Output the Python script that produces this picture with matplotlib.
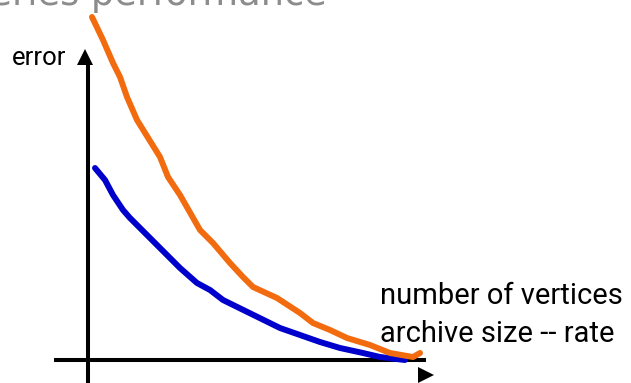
import matplotlib
matplotlib.use("Agg")
import matplotlib.pyplot as plt

# curves (x = size/rate, y = error), arbitrary units
orange_x = [4, 15, 25, 32, 39, 49, 72, 80, 92, 112, 125, 142, 155, 165, 189,
            212, 225, 242, 259, 282, 302, 325, 332]
orange_y = [343, 320, 297, 283, 263, 240, 203, 183, 165, 130, 117, 97, 83, 73, 62,
            47, 37, 30, 22, 15, 7, 3, 7]

blue_x = [7, 17, 25, 35, 42, 59, 64, 92, 109, 122, 135, 192, 212, 232, 252,
          275, 292, 317]
blue_y = [192, 180, 165, 150, 142, 125, 120, 92, 77, 70, 60, 32, 25, 18, 12,
          7, 3, 0]

title = "Queries performance"
y_label = "error"
x_labels = ["number of vertices", "archive size -- rate"]

fig = plt.figure(figsize=(6.31, 3.83), dpi=100)
ax = fig.add_axes([0, 0, 1, 1])
ax.set_xlim(-88, 543)
ax.set_ylim(-23, 360)
ax.axis("off")

# hand-drawn style axes
ax.plot([0, 0], [-23, 300], color="black", lw=2.9, solid_capstyle="butt")
ax.plot([-34, 338], [0, 0], color="black", lw=2.9, solid_capstyle="butt")
ax.plot([-3], [303], marker="^", color="black", ms=12, mew=0)
ax.plot([338], [-15], marker=">", color="black", ms=12, mew=0)

ax.plot(blue_x, blue_y, color="#0000CC", lw=4.3,
        solid_capstyle="round", solid_joinstyle="round")
ax.plot(orange_x, orange_y, color="#F26B0F", lw=4.3,
        solid_capstyle="round", solid_joinstyle="round")

ax.text(327 - 88, 355, title, ha="right", va="baseline",
        fontsize=26.5, color="#8c8c8c", family="DejaVu Sans")
ax.text(12 - 88, 295, y_label, ha="left", va="baseline",
        fontsize=18.5, color="black", family="Roboto")
ax.text(380 - 88, 56, x_labels[0], ha="left", va="baseline",
        fontsize=21, color="black", family="Roboto")
ax.text(380 - 88, 18, x_labels[1], ha="left", va="baseline",
        fontsize=21, color="black", family="Roboto")

fig.savefig("out.png", dpi=100)
